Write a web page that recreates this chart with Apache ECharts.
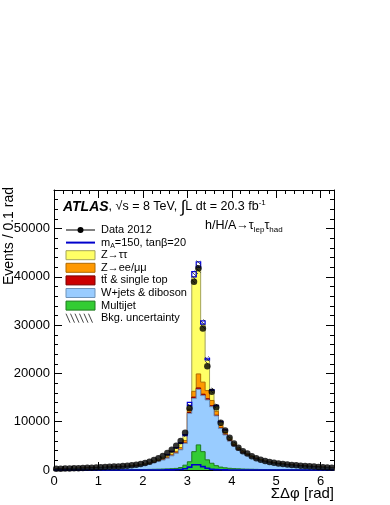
<!DOCTYPE html>
<html>
<head>
<meta charset="utf-8">
<script src="https://cdn.jsdelivr.net/npm/echarts@6/dist/echarts.min.js"></script>
<style>
  html, body { margin: 0; padding: 0; background: #fff; }
  #chart { width: 390px; height: 505px; }
</style>
</head>
<body>
<div id="chart"></div>
<script>
// sum of delta-phi, bins of 0.1 rad from 0 to 6.3
const binWidth = 0.1;
const xTickLabels = ['0', '1', '2', '3', '4', '5', '6'];

const data2012 = [250, 270, 290, 320, 350, 380, 410, 450, 490, 530,
  570, 610, 650, 700, 750, 810, 880, 980, 1100, 1250,
  1450, 1700, 2050, 2450, 2900, 3500, 4200, 5000, 6000, 7700,
  12800, 39000, 41800, 29300, 21500, 16200, 13000, 9800, 8200, 6700,
  5500, 4600, 3900, 3400, 2850, 2450, 2100, 1850, 1650, 1480,
  1350, 1250, 1150, 1060, 980, 900, 830, 760, 700, 640,
  580, 520, 460];

// backgrounds, bottom of the stack first
const multijet = [20, 20, 25, 25, 30, 30, 35, 35, 40, 40,
  45, 45, 50, 55, 60, 65, 70, 80, 90, 100,
  110, 130, 150, 170, 200, 230, 270, 330, 500, 1000,
  1700, 3800, 5200, 3800, 2100, 1400, 900, 600, 450, 350,
  280, 240, 200, 170, 150, 130, 110, 100, 90, 80,
  75, 70, 65, 60, 55, 50, 45, 42, 40, 38,
  35, 32, 30];
const wjets = [188, 206, 217, 239, 259, 285, 304, 332, 361, 389,
  416, 443, 470, 500, 528, 563, 605, 662, 732, 817,
  942, 1097, 1320, 1575, 1850, 2225, 2660, 3140, 3670, 4500,
  10000, 11000, 11500, 11600, 12400, 11700, 10300, 8000, 6800, 5630,
  4660, 3870, 3305, 2850, 2430, 2080, 1800, 1579, 1405, 1265,
  1156, 1065, 982, 907, 841, 775, 717, 657, 605, 553,
  501, 450, 398];
const ttbar = [5, 5, 6, 6, 7, 7, 8, 9, 9, 10,
  11, 12, 12, 13, 14, 15, 17, 18, 20, 23,
  26, 30, 35, 40, 45, 50, 60, 70, 80, 100,
  200, 300, 300, 300, 250, 200, 150, 120, 100, 80,
  70, 60, 50, 45, 40, 35, 30, 28, 25, 23,
  21, 19, 17, 16, 15, 14, 13, 12, 11, 10,
  9, 8, 7];
const zll = [12, 13, 14, 15, 17, 18, 20, 22, 24, 26,
  28, 30, 32, 35, 38, 42, 46, 52, 60, 70,
  82, 98, 120, 145, 175, 215, 260, 320, 400, 500,
  700, 1200, 2900, 2500, 1700, 1100, 800, 500, 400, 320,
  260, 220, 185, 160, 135, 115, 100, 88, 78, 70,
  63, 58, 53, 49, 45, 41, 38, 35, 32, 29,
  27, 24, 21];
const ztautau = [15, 16, 18, 20, 22, 25, 28, 32, 36, 40,
  45, 50, 56, 62, 70, 80, 92, 108, 128, 150,
  180, 215, 265, 320, 390, 480, 600, 740, 900, 1000,
  800, 23700, 22100, 12000, 6350, 2100, 1150, 780, 550, 420,
  330, 260, 210, 175, 145, 120, 100, 85, 72, 62,
  55, 48, 43, 38, 34, 30, 27, 24, 22, 20,
  18, 16, 14];
const signalA150 = [0, 0, 0, 0, 0, 0, 0, 0, 0, 0,
  0, 0, 0, 0, 0, 0, 0, 0, 0, 0,
  0, 0, 0, 0, 0, 20, 30, 50, 100, 250,
  600, 1100, 1100, 700, 350, 150, 80, 40, 20, 0,
  0, 0, 0, 0, 0, 0, 0, 0, 0, 0,
  0, 0, 0, 0, 0, 0, 0, 0, 0, 0,
  0, 0, 0];
const bkgUnc = [10, 10, 11, 12, 13, 14, 15, 16, 18, 19,
  20, 22, 23, 25, 27, 29, 31, 34, 38, 43,
  49, 57, 68, 80, 94, 112, 134, 160, 190, 240,
  450, 1300, 1400, 1000, 750, 550, 440, 330, 275, 225,
  185, 155, 130, 112, 96, 82, 71, 62, 55, 50,
  45, 42, 38, 35, 33, 30, 28, 26, 24, 22,
  20, 18, 16];

const nBins = data2012.length;
const xMax = nBins * binWidth;
const font = "'Liberation Sans', Arial, sans-serif";

const layers = [
  { name: 'Multijet', vals: multijet, fill: '#33cc33', edge: '#1f7a1f' },
  { name: 'W+jets & diboson', vals: wjets, fill: '#99ccff', edge: '#6f93b8' },
  { name: 'tt & single top', vals: ttbar, fill: '#cc0000', edge: '#7a0000' },
  { name: 'Z->ee/mumu', vals: zll, fill: '#ff9900', edge: '#b06a00' },
  { name: 'Z->tautau', vals: ztautau, fill: '#ffff66', edge: '#a3a35a' }
];
// cumulative tops
let running = data2012.map(() => 0);
layers.forEach(l => {
  l.top = running.map((v, i) => v + l.vals[i]);
  running = l.top;
});
const bkgTotal = running;

function stepPoly(api, top) {
  const pts = [api.coord([0, 0])];
  for (let i = 0; i < nBins; i++) {
    pts.push(api.coord([i * binWidth, top[i]]));
    pts.push(api.coord([(i + 1) * binWidth, top[i]]));
  }
  pts.push(api.coord([xMax, 0]));
  return pts;
}

// ROOT-like stack: each layer filled from 0 up to its cumulative top, top layer painted first
const stackSeries = layers.map((l, k) => ({
  type: 'custom', name: l.name, z: 10 - k, silent: true,
  data: [[0, 0]],
  renderItem(params, api) {
    const pts = stepPoly(api, l.top);
    return {
      type: 'group', children: [
        { type: 'polygon', shape: { points: pts }, style: { fill: l.fill } },
        { type: 'polyline', shape: { points: pts }, style: { stroke: l.edge, lineWidth: 1, fill: null } }
      ]
    };
  }
}));

const signalStacked = {
  type: 'custom', name: 'signal stacked', z: 11, silent: true,
  data: [[0, 0]],
  renderItem(params, api) {
    const children = [];
    for (let i = 0; i < nBins; i++) {
      if (!signalA150[i]) continue;
      const a = api.coord([i * binWidth, bkgTotal[i] + signalA150[i]]);
      const b = api.coord([(i + 1) * binWidth, bkgTotal[i]]);
      children.push({
        type: 'rect', shape: { x: a[0], y: a[1], width: b[0] - a[0], height: b[1] - a[1] },
        style: { fill: null, stroke: '#0000dd', lineWidth: 1.2 }
      });
    }
    return { type: 'group', children };
  }
};

const hatch = {
  type: 'custom', name: 'Bkg. uncertainty', z: 12, silent: true,
  data: [[0, 0]],
  renderItem(params, api) {
    const children = [];
    const step = 4;
    for (let i = 0; i < nBins; i++) {
      const a = api.coord([i * binWidth, bkgTotal[i] + bkgUnc[i]]);
      const b = api.coord([(i + 1) * binWidth, bkgTotal[i] - bkgUnc[i]]);
      const x0 = a[0], x1 = b[0], y0 = a[1], y1 = b[1];
      for (let c = Math.ceil((y0 - x1) / step) * step; c <= y1 - x0; c += step) {
        const xa = Math.max(x0, y0 - c), xb = Math.min(x1, y1 - c);
        if (xb > xa) {
          children.push({ type: 'line', shape: { x1: xa, y1: xa + c, x2: xb, y2: xb + c },
            style: { stroke: '#333', lineWidth: 0.8 } });
        }
      }
    }
    return { type: 'group', children };
  }
};

const signalLine = {
  type: 'custom', name: 'mA=150', z: 13, silent: true,
  data: [[0, 0]],
  renderItem(params, api) {
    return { type: 'polyline', shape: { points: stepPoly(api, signalA150) },
      style: { stroke: '#0000cc', lineWidth: 1.6, fill: null } };
  }
};

const dataSeries = {
  type: 'scatter', name: 'Data 2012', z: 14, silent: true,
  symbol: 'circle', symbolSize: 6.5,
  itemStyle: { color: '#000' },
  data: data2012.map((v, i) => [(i + 0.5) * binWidth, v])
};

// legend drawn by hand (ROOT style)
const legRows = [230, 242.6, 255.2, 267.8, 280.4, 293, 305.6, 318.2];
const legX0 = 66, legX1 = 95, legTextX = 101;
const legend = [];
legend.push({ type: 'line', shape: { x1: legX0, y1: legRows[0], x2: legX1, y2: legRows[0] }, style: { stroke: '#000', lineWidth: 1 } });
legend.push({ type: 'circle', shape: { cx: (legX0 + legX1) / 2, cy: legRows[0], r: 3 }, style: { fill: '#000' } });
legend.push({ type: 'line', shape: { x1: legX0, y1: legRows[1], x2: legX1, y2: legRows[1] }, style: { stroke: '#0000cc', lineWidth: 2 } });
[4, 3, 2, 1, 0].forEach((k, j) => {
  const l = layers[k];
  legend.push({ type: 'rect', shape: { x: legX0, y: legRows[2 + j] - 4.5, width: legX1 - legX0, height: 9 },
    style: { fill: l.fill, stroke: l.edge, lineWidth: 1 } });
});
// hatched legend symbol: short backslash strokes
for (let x = legX0; x + 4 <= legX1; x += 4.5) {
  legend.push({ type: 'line', shape: { x1: x, y1: legRows[7] - 4.5, x2: x + 4, y2: legRows[7] + 4.5 },
    style: { stroke: '#333', lineWidth: 0.9 } });
}
const legLabels = ['Data 2012', '{n|m}{b|A}{n|=150, tanβ=20}', 'Z→ττ', 'Z→ee/μμ',
  'tt̄ & single top', 'W+jets & diboson', 'Multijet', 'Bkg. uncertainty'];
legLabels.forEach((t, j) => {
  legend.push({ type: 'text', style: { x: legTextX, y: legRows[j], text: t, verticalAlign: 'middle',
    font: '11px ' + font, fill: '#000',
    rich: { n: { fontSize: 11, fontFamily: font }, b: { fontSize: 7, fontFamily: font, padding: [6, 0, 0, 0] } } } });
});

const texts = [
  { type: 'text', style: { x: 63, y: 207, verticalAlign: 'middle', fill: '#000',
    text: '{a|ATLAS}{n|, √s = 8 TeV, }{i|∫}{n|L dt = 20.3 fb}{s|-1}',
    rich: {
      a: { fontFamily: font, fontWeight: 'bold', fontStyle: 'italic', fontSize: 14 },
      n: { fontFamily: font, fontSize: 12.5 },
      i: { fontFamily: font, fontSize: 17 },
      s: { fontFamily: font, fontSize: 8, padding: [0, 0, 9, 0] }
    } } },
  { type: 'text', style: { x: 205, y: 226, verticalAlign: 'middle', fill: '#000',
    text: '{n|h/H/A→τ}{b|lep}{n|τ}{b|had}',
    rich: {
      n: { fontFamily: font, fontSize: 12.5 },
      b: { fontFamily: font, fontSize: 8, padding: [7, 0, 0, 0] }
    } } },
  { type: 'text', rotation: Math.PI / 2, x: 9, y: 187,
    style: { x: 0, y: 0, text: 'Events / 0.1 rad', align: 'right', verticalAlign: 'middle',
      font: '14px ' + font, fill: '#000' } },
  { type: 'text', style: { x: 334, y: 494, text: 'ΣΔφ [rad]', align: 'right', verticalAlign: 'middle',
    font: '15px ' + font, fill: '#000' } }
];

const axisBase = {
  type: 'value', min: 0,
  axisLine: { show: true, onZero: false, lineStyle: { color: '#000', width: 1 } },
  axisTick: { show: true, inside: true, length: 8, lineStyle: { color: '#000' } },
  minorTick: { show: true, splitNumber: 5, length: 4, lineStyle: { color: '#000' } },
  splitLine: { show: false },
  minorSplitLine: { show: false }
};

const chart = echarts.init(document.getElementById('chart'), null, { renderer: 'canvas' });
chart.setOption({
  animation: false,
  backgroundColor: '#fff',
  grid: { left: 54, right: 56, top: 190, bottom: 35, outerBoundsMode: 'none' },
  xAxis: [
    Object.assign({}, axisBase, { max: xMax, interval: 1, position: 'bottom',
      axisLabel: { color: '#000', fontSize: 13, fontFamily: font, margin: 5, showMaxLabel: false,
        formatter: v => xTickLabels[Math.round(v)] || '' } }),
    Object.assign({}, axisBase, { max: xMax, interval: 1, position: 'top', axisLabel: { show: false } })
  ],
  yAxis: [
    Object.assign({}, axisBase, { max: 58000, interval: 10000, position: 'left',
      axisLabel: { color: '#000', fontSize: 13, fontFamily: font, margin: 4, showMaxLabel: false,
        formatter: v => String(v) } }),
    Object.assign({}, axisBase, { max: 58000, interval: 10000, position: 'right', axisLabel: { show: false } })
  ],
  graphic: { elements: legend.concat(texts) },
  series: stackSeries.concat([signalStacked, hatch, signalLine, dataSeries])
});
</script>
</body>
</html>
